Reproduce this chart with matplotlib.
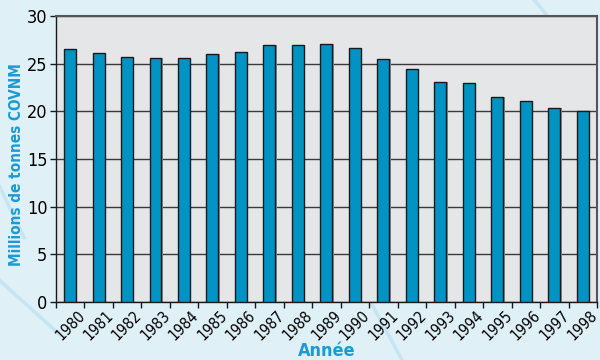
import matplotlib.pyplot as plt
import numpy as np

# ── Data ──────────────────────────────────────────────────────────────────────
years = [1980, 1981, 1982, 1983, 1984, 1985, 1986, 1987, 1988, 1989,
         1990, 1991, 1992, 1993, 1994, 1995, 1996, 1997, 1998]
emissions = [26.5, 26.1, 25.7, 25.6, 25.6, 26.0, 26.2, 26.9, 26.9, 27.0,
             26.6, 25.5, 24.4, 23.1, 23.0, 21.5, 21.1, 20.3, 20.0]

# ── Style ─────────────────────────────────────────────────────────────────────
plt.rcParams['font.family'] = ['DejaVu Sans']
plt.rcParams['font.stretch'] = 'condensed'

BG = '#dff0f7'
PLOT_BG = '#e5e6e8'
BAR = '#0093c4'
TITLE_BLUE = '#1b9ad6'

fig = plt.figure(figsize=(6, 3.6), dpi=100, facecolor=BG)

# faint decorative strokes in the background
for (x0, y0, x1, y1) in [(0.0, 0.22, 0.1, 0.07), (0.615, 0.17, 0.67, 0.0),
                         (0.89, 1.0, 0.94, 0.9), (0.0, 0.48, 0.04, 0.34)]:
    fig.add_artist(plt.Line2D([x0, x1], [y0, y1], transform=fig.transFigure,
                              color='#c6e4f1', lw=2.5, zorder=0))

ax = fig.add_axes([0.093, 0.161, 0.902, 0.795])
ax.set_facecolor(PLOT_BG)

x = np.arange(len(years))
# grey drop shadow behind each bar
ax.bar(x + 0.05, emissions, 0.42, color='#8a9096', zorder=2, linewidth=0)
ax.bar(x, emissions, 0.42, color=BAR, edgecolor='#1a1a1a', linewidth=1.0, zorder=3)

ax.set_xlim(-0.5, len(years) - 0.5)
ax.set_ylim(0, 30)
ax.set_yticks(range(0, 31, 5))
ax.yaxis.grid(True, color='#3a3a3a', linewidth=1.0)
ax.set_axisbelow(True)

# labels sit under each bar, tick marks fall on category boundaries
ax.set_xticks(x)
ax.set_xticklabels([str(y) for y in years], rotation=45, ha='center',
                   va='top', fontsize=11)
ax.set_xticks(np.arange(len(years) + 1) - 0.5, minor=True)
ax.tick_params(axis='x', which='major', length=0, pad=4)
ax.tick_params(axis='x', which='minor', length=4, width=1, color='#1a1a1a')
ax.tick_params(axis='y', length=4, width=1, color='#1a1a1a', labelsize=13, pad=2)

for side in ['top', 'right']:
    ax.spines[side].set_color('#555555')
    ax.spines[side].set_linewidth(1.5)
for side in ['left', 'bottom']:
    ax.spines[side].set_color('#1a1a1a')
    ax.spines[side].set_linewidth(1.0)

ax.set_ylabel('Millions de tonnes COVNM', color=TITLE_BLUE, fontsize=11,
              fontweight='bold', va='center')
ax.yaxis.set_label_coords(-0.072, 0.48)
ax.set_xlabel('Année', color=TITLE_BLUE, fontsize=13, fontweight='bold', va='center')
ax.xaxis.set_label_coords(0.5, -0.171)

plt.savefig('out.png', dpi=100, facecolor=BG)
